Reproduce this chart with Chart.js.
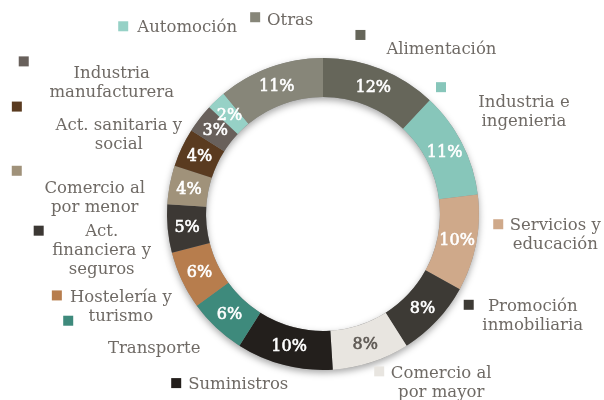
<!DOCTYPE html>
<html>
<head>
<meta charset="utf-8">
<script src="https://cdn.jsdelivr.net/npm/chart.js@4"></script>
<style>
  body { margin: 0; background: #fff; }
</style>
</head>
<body>
<canvas id="grafica" width="604" height="400"></canvas>
<script>
// datos
const sectores = [
  ['Alimentación'],
  ['Industria e', 'ingenieria'],
  ['Servicios y', 'educación'],
  ['Promoción', 'inmobiliaria'],
  ['Comercio al', 'por mayor'],
  ['Suministros'],
  ['Transporte'],
  ['Hostelería y', 'turismo'],
  ['Act.', 'financiera y', 'seguros'],
  ['Comercio al', 'por menor'],
  ['Act. sanitaria y', 'social'],
  ['Industria', 'manufacturera'],
  ['Automoción'],
  ['Otras']
];
const porcentajes = [12, 11, 10, 8, 8, 10, 6, 6, 5, 4, 4, 3, 2, 11];
const colores = [
  '#66665a', '#87c6ba', '#cfa98a', '#3d3a35', '#e8e5e0', '#231f1c', '#3e8a7c',
  '#b77d4d', '#3c3834', '#a0927a', '#5a3b20', '#68605b', '#96d1c6', '#878679'
];
const coloresValor = [
  '#fff', '#fff', '#fff', '#fff', '#5f5a55', '#fff', '#fff',
  '#fff', '#fff', '#fff', '#fff', '#fff', '#fff', '#fff'
];

// desplazamiento de cada etiqueta desde el borde exterior del sector
const despTexto = [
  [61, -19], [62, -40], [79, -18], [96, -14], [70, 11], [-46, 20], [-62, 21],
  [-61, 17], [-66, 3], [-75, 4], [-63, -22], [-88, -45], [-29, -73], [20, -47]
];
const despMarca = [
  [-20, -34], [-21, -56], [22, -19], [32, -16], [8, 9], [-108, 18], [-148, -7],
  [-125, 15], [-129, 2], [-153, -14], [-165, -41], [-176, -57], [-93, -74], [-15, -50]
];

const fuenteEtiqueta = '16.5px "DejaVu Serif"';
const fuenteValor = '16px "DejaVu Serif"';
const colorTexto = '#6f6a65';

const sombraAnillo = {
  id: 'sombraAnillo',
  beforeDatasetsDraw(chart) {
    const arco = chart.getDatasetMeta(0).data[0];
    if (!arco) return;
    const { x, y, outerRadius, innerRadius } = arco.getProps(['x', 'y', 'outerRadius', 'innerRadius'], true);
    const ctx = chart.ctx;
    ctx.save();
    ctx.shadowColor = 'rgba(0,0,0,0.35)';
    ctx.shadowBlur = 7;
    ctx.shadowOffsetY = 3;
    ctx.beginPath();
    ctx.arc(x, y, outerRadius, 0, Math.PI * 2);
    ctx.arc(x, y, innerRadius, Math.PI * 2, 0, true);
    ctx.closePath();
    ctx.fillStyle = '#888';
    ctx.fill();
    ctx.restore();
  }
};

const etiquetas = {
  id: 'etiquetas',
  afterDatasetsDraw(chart) {
    const ctx = chart.ctx;
    const meta = chart.getDatasetMeta(0);
    meta.data.forEach((arco, i) => {
      const p = arco.getProps(['x', 'y', 'startAngle', 'endAngle', 'outerRadius', 'innerRadius'], true);
      const medio = (p.startAngle + p.endAngle) / 2;
      const rMedio = (p.innerRadius + p.outerRadius) / 2;

      ctx.save();
      ctx.textAlign = 'center';
      ctx.textBaseline = 'middle';
      ctx.font = fuenteValor;
      ctx.fillStyle = coloresValor[i];
      ctx.strokeStyle = coloresValor[i];
      ctx.lineWidth = 0.6;
      const vx = p.x + Math.cos(medio) * rMedio;
      const vy = p.y + Math.sin(medio) * rMedio + 1;
      ctx.fillText(porcentajes[i] + '%', vx, vy);
      ctx.strokeText(porcentajes[i] + '%', vx, vy);

      const bx = p.x + Math.cos(medio) * p.outerRadius;
      const by = p.y + Math.sin(medio) * p.outerRadius;

      ctx.fillStyle = colores[i];
      ctx.fillRect(bx + despMarca[i][0] - 5, by + despMarca[i][1] - 5, 10, 10);

      ctx.font = fuenteEtiqueta;
      ctx.fillStyle = colorTexto;
      sectores[i].forEach((linea, j) => {
        ctx.fillText(linea, bx + despTexto[i][0], by + despTexto[i][1] + j * 19);
      });
      ctx.restore();
    });
  }
};

new Chart(document.getElementById('grafica'), {
  type: 'doughnut',
  data: {
    labels: sectores.map(s => s.join(' ')),
    datasets: [{
      data: porcentajes,
      backgroundColor: colores,
      borderWidth: 0
    }]
  },
  options: {
    responsive: false,
    animation: false,
    cutout: '75%',
    layout: { padding: { top: 58, bottom: 30, left: 167, right: 125 } },
    plugins: {
      legend: { display: false },
      tooltip: { enabled: false }
    }
  },
  plugins: [sombraAnillo, etiquetas]
});
</script>
</body>
</html>
